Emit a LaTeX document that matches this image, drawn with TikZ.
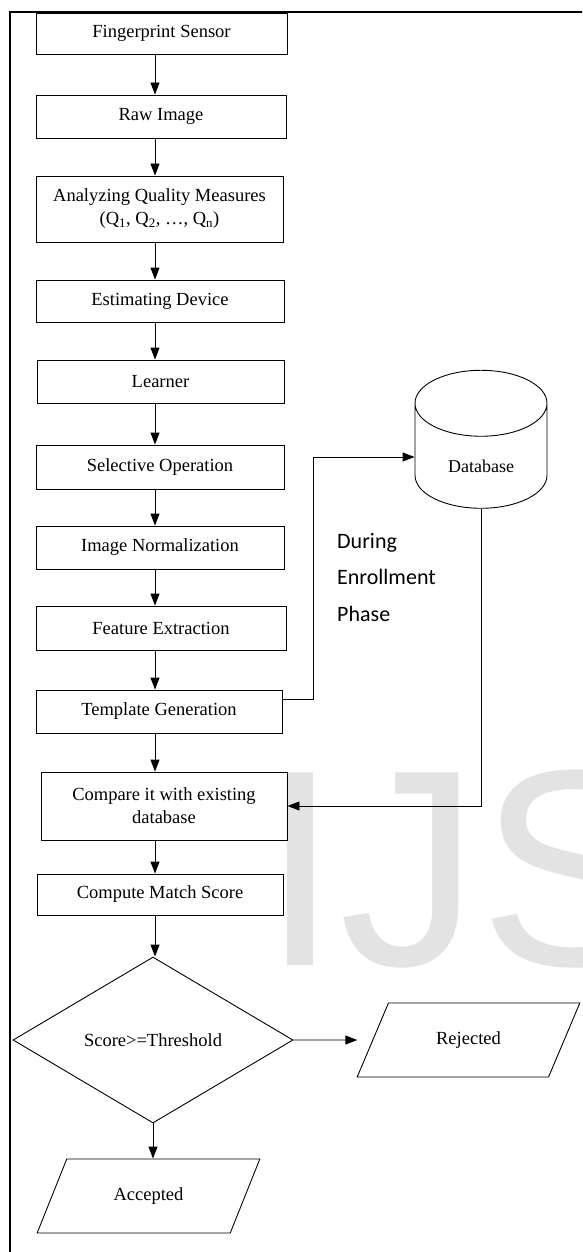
\documentclass[tikz,border=0pt]{standalone}
\usepackage{fontspec}
\setmainfont{Liberation Serif}
\newfontfamily\phasefont{Carlito}
\newfontfamily\markfont{Liberation Sans}
\usetikzlibrary{shapes.geometric,arrows.meta}

\tikzset{
  stepbox/.style={draw, line width=0.9pt, inner sep=0pt, align=center,
    font=\fontsize{18.5}{23}\selectfont},
  iobox/.style={draw, trapezium, trapezium left angle=53, trapezium right angle=127,
    trapezium stretches=true, minimum width=223pt, minimum height=74pt,
    inner sep=0pt, line width=0.9pt, font=\fontsize{18.5}{23}\selectfont},
  flowarrow/.style={line width=0.9pt, -{Triangle[length=12pt,width=9pt]}},
}

\begin{document}
\begin{tikzpicture}[x=1pt, y=-1pt]
    \useasboundingbox (0,0) rectangle (582,1252);
    \begin{scope}
        \clip (0,0) rectangle (582,1252);
        \node[anchor=base west, inner sep=0pt, text=gray!22,
            font=\markfont\fontsize{280}{280}\selectfont] (mark) at (261,965) {IJS};
        \draw[line width=2.5pt] (10,1260) -- (10,12) -- (590,12);
    \end{scope}

    \coordinate (axis) at (155,0);
    \foreach \n/\x/\y/\w/\h/\t in {
        fs/161.5/33.5/251/41/{Fingerprint Sensor},
        raw/161/116.5/250/43/{Raw Image},
        qm/159.5/209/247/66/{Analyzing Quality Measures\\(Q\textsubscript{1}, Q\textsubscript{2}, \dots, Q\textsubscript{n})},
        est/160/301/248/42/{Estimating Device},
        lrn/160.5/381.5/247/43/{Learner},
        sel/160/467/248/44/{Selective Operation},
        norm/160/547.5/248/43/{Image Normalization},
        feat/161/628/250/44/{Feature Extraction},
        tg/159/711.5/246/43/{Template Generation},
        cmp/164/806/246/68/{Compare it with existing\\database},
        score/160/894.5/246/41/{Compute Match Score}}
        {\node[stepbox, minimum width=\w pt, minimum height=\h pt] (\n) at (\x,\y) {\t};}

    \node[draw, diamond, aspect=1.69, minimum width=280pt, minimum height=166pt,
        inner sep=0pt, line width=0.9pt, font=\fontsize{18.5}{23}\selectfont]
        (dec) at (153,1040) {Score>=Threshold};
    \node[iobox] (rej) at (468.5,1040) {Rejected};
    \node[iobox] (acc) at (148.5,1196) {Accepted};

    \node[draw, cylinder, shape border rotate=90, aspect=1, minimum width=132pt,
        minimum height=138pt, inner sep=0pt, line width=0.9pt,
        font=\fontsize{18}{22}\selectfont] (db) at (481,456)
        {\raisebox{-16pt}[0pt][0pt]{Database}};
    \node[anchor=north west, align=left, inner sep=0pt,
        font=\phasefont\fontsize{22}{36.5}\selectfont] (phase) at (337,533)
        {During\\Enrollment\\Phase};

    \foreach \a/\b in {fs/raw,raw/qm,qm/est,est/lrn,lrn/sel,sel/norm,norm/feat,feat/tg,tg/cmp,cmp/score,score/dec}
        {\draw[flowarrow] (\a.south -| axis) -- (\b.north -| axis);}
    \draw[flowarrow] (dec.south) -- (dec.south |- acc.north);
    \draw[flowarrow, shorten >=15pt] (dec.east) -- (rej.west);
    \draw[flowarrow] ([yshift=12.5pt]tg.east) -- ++(31,0) |- ([yshift=-1pt]db.west);
    \draw[flowarrow] (db.south) |- (cmp.east);
\end{tikzpicture}
\end{document}
